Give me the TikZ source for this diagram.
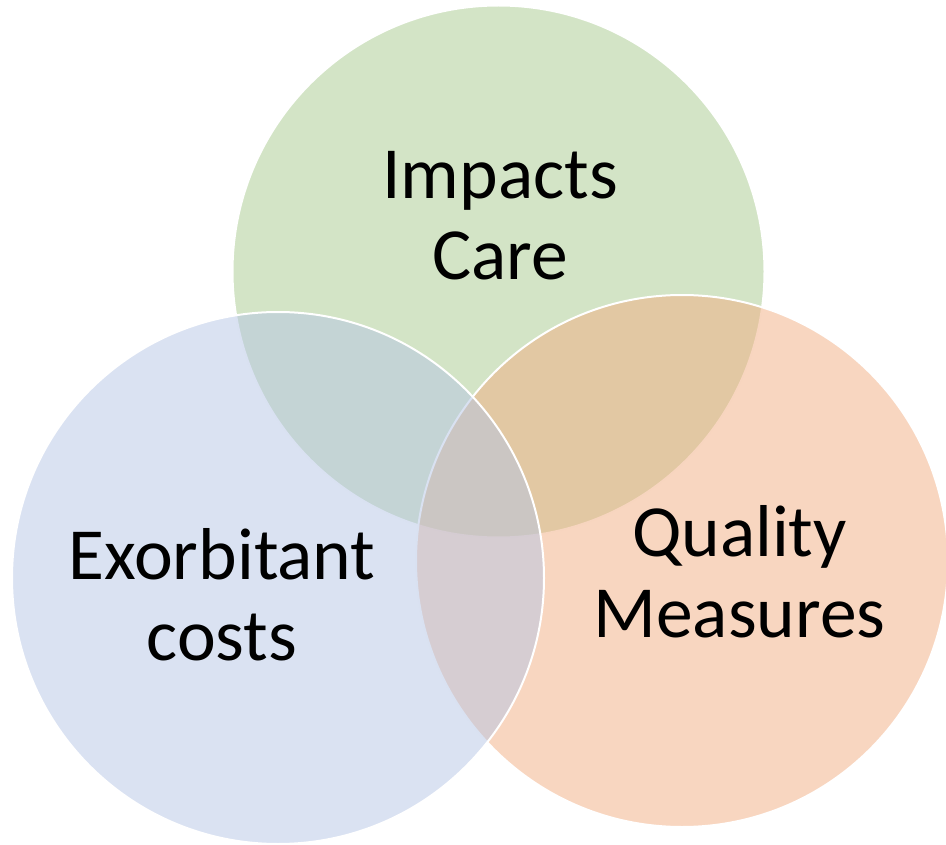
\documentclass[tikz,border=0pt]{standalone}
\usepackage{fontspec}
\setmainfont{Carlito}
\usepackage{xcolor}
\usepackage{tikz}
\definecolor{verdeVenn}{HTML}{A7C98D}
\definecolor{naranjaVenn}{HTML}{F1AD81}
\definecolor{azulVenn}{HTML}{B5C5E5}

\begin{document}
\begin{tikzpicture}[x=1pt, y=-1pt]
    \tikzstyle{circulo}=[circle, draw=white, line width=2pt, fill opacity=0.5, minimum size=532pt, inner sep=0pt, outer sep=0pt]
    \tikzstyle{etiqueta}=[font=\fontsize{73.5}{81}\selectfont, align=center, text=black, inner sep=0pt]

    \useasboundingbox (0,0) rectangle (946,845);

    % Circulos (verde abajo, azul arriba)
    \node[circulo, fill=verdeVenn]   (verde)   at (498.5,271.5) {};
    \node[circulo, fill=naranjaVenn] (naranja) at (682,561)     {};
    \node[circulo, fill=azulVenn]    (azul)    at (278,578)     {};

    % Textos
    \node[etiqueta] (impacto) at (500,216)   {Impacts\\Care};
    \node[etiqueta] (costos)  at (222,595)   {Exorbitant\\costs};
    \node[etiqueta] (calidad) at (739.5,572) {Quality\\Measures};
\end{tikzpicture}
\end{document}
